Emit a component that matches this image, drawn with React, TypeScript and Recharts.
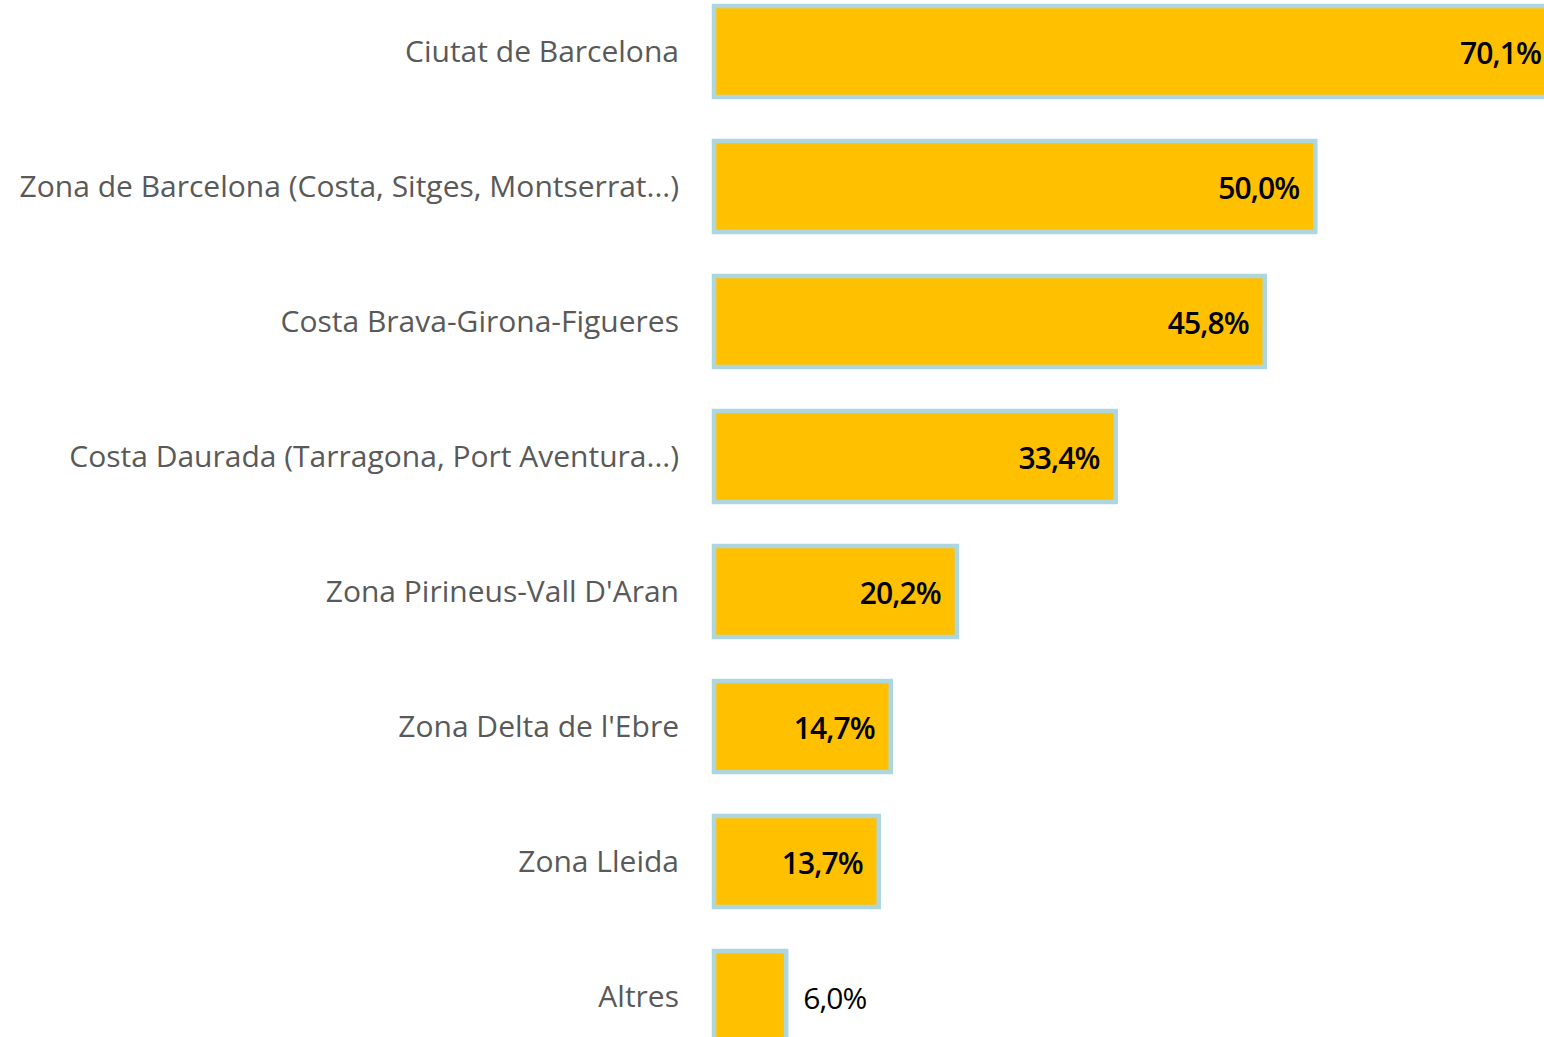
import React from "react";
import { BarChart, Bar, XAxis, YAxis, LabelList } from "recharts";

const categories = [
  "Ciutat de Barcelona",
  "Zona de Barcelona (Costa, Sitges, Montserrat...)",
  "Costa Brava-Girona-Figueres",
  "Costa Daurada (Tarragona, Port Aventura...)",
  "Zona Pirineus-Vall D'Aran",
  "Zona Delta de l'Ebre",
  "Zona Lleida",
  "Altres",
];
const values = [70.1, 50.0, 45.8, 33.4, 20.2, 14.7, 13.7, 6.0];

const data = categories.map((name, i) => ({ name, value: values[i] }));

const FONT = "'Open Sans', 'Noto Sans', sans-serif";

const fmt = (v: number) => v.toFixed(1).replace(".", ",") + "%";

const ValueLabel = (props: any) => {
  const { x, y, width, height, value } = props;
  const inside = width > 100;
  const tx = inside ? x + width - 16 : x + width + 17;
  return (
    <text
      x={tx}
      y={y + height / 2 + 1}
      textAnchor={inside ? "end" : "start"}
      dominantBaseline="central"
      fill="#000000"
      fontSize={30}
      fontWeight={inside ? 600 : 400}
      fontFamily={FONT}
      letterSpacing={-0.9}
    >
      {fmt(value)}
    </text>
  );
};

export default function App() {
  return (
    <div
      style={{
        position: "fixed",
        left: 0,
        top: 0,
        width: 1544,
        height: 1037,
        overflow: "hidden",
        background: "#ffffff",
      }}
    >
      <div style={{ position: "absolute", left: 0, top: -16.5 }}>
        <BarChart
          width={1676}
          height={1080}
          data={data}
          layout="vertical"
          margin={{ top: 0, right: 0, bottom: 0, left: 0 }}
          barCategoryGap={0}
        >
          <XAxis type="number" domain={[0, 80]} hide />
          <YAxis
            type="category"
            dataKey="name"
            width={714}
            axisLine={false}
            tickLine={false}
            tickSize={0}
            tickMargin={35}
            interval={0}
            tick={{ fill: "#595959", fontSize: 30, fontFamily: FONT }}
          />
          <Bar
            dataKey="value"
            fill="#FFC000"
            stroke="#AED6DF"
            strokeWidth={4.5}
            barSize={91}
            isAnimationActive={false}
          >
            <LabelList dataKey="value" content={<ValueLabel />} />
          </Bar>
        </BarChart>
      </div>
    </div>
  );
}
